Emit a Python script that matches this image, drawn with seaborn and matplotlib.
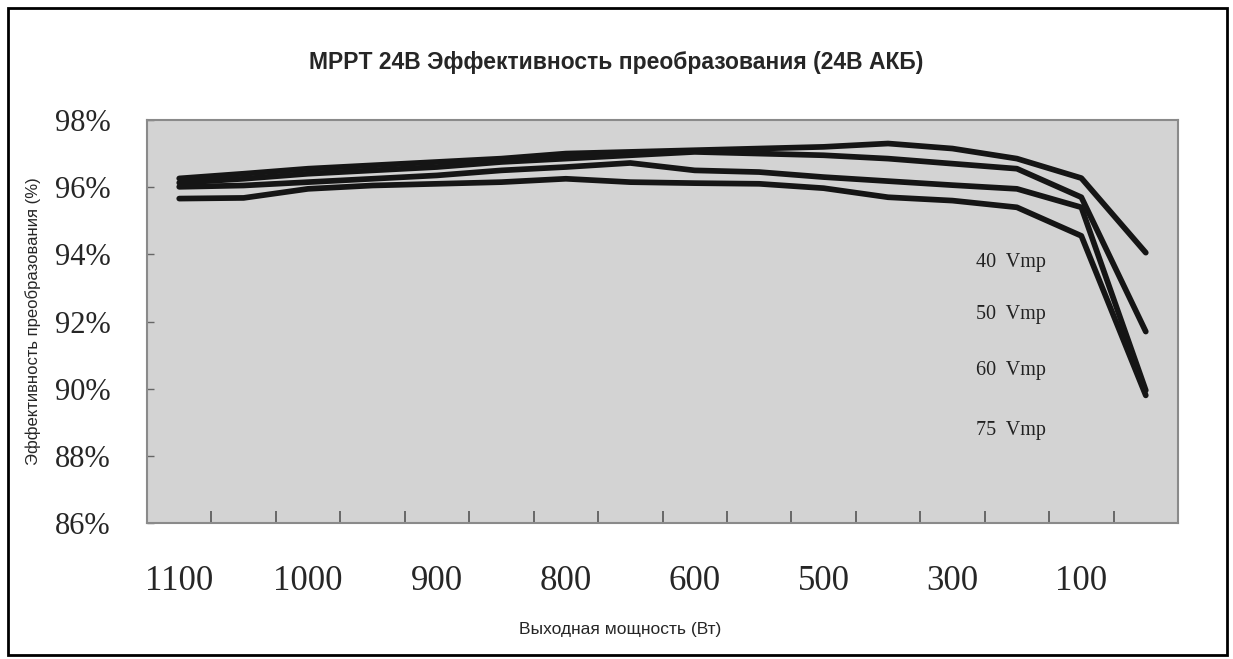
import matplotlib
matplotlib.use("Agg")
import matplotlib.pyplot as plt
import matplotlib.patches as mpatches
import seaborn as sns
import pandas as pd
import numpy as np

# output power categories (16 measuring points, every second one labelled)
power_labels = ["1100", "1000", "900", "800", "600", "500", "300", "100"]
n_points = 16

series_names = ["40 Vmp", "50 Vmp", "60 Vmp", "75 Vmp"]

eff_40 = [96.26, 96.40, 96.55, 96.65, 96.75, 96.85, 97.00, 97.05,
          97.10, 97.15, 97.20, 97.30, 97.15, 96.85, 96.27, 94.05]
eff_50 = [96.13, 96.25, 96.40, 96.50, 96.60, 96.75, 96.85, 96.95,
          97.05, 97.00, 96.95, 96.85, 96.70, 96.55, 95.70, 91.70]
eff_60 = [96.01, 96.05, 96.15, 96.25, 96.35, 96.50, 96.60, 96.72,
          96.50, 96.45, 96.30, 96.18, 96.06, 95.95, 95.40, 89.95]
eff_75 = [95.66, 95.68, 95.95, 96.05, 96.10, 96.15, 96.25, 96.15,
          96.12, 96.10, 95.97, 95.70, 95.60, 95.40, 94.55, 89.80]

y_ticks = [86, 88, 90, 92, 94, 96, 98]


def build_frame():
    records = []
    for name, vals in zip(series_names, [eff_40, eff_50, eff_60, eff_75]):
        for i, v in enumerate(vals):
            records.append({"point": i, "eff": v, "series": name})
    return pd.DataFrame(records)


def main():
    sns.set_style("white")
    plt.rcParams["font.family"] = ["Liberation Sans", "DejaVu Sans"]

    df = build_frame()

    fig = plt.figure(figsize=(12.33, 6.59), dpi=100)
    ax = fig.add_axes([147 / 1233, 136 / 659, 1031 / 1233, 403 / 659])
    ax.set_facecolor("#d3d3d3")

    sns.lineplot(data=df, x="point", y="eff", hue="series",
                 palette=["#151515"] * 4, linewidth=4.1, legend=False,
                 ax=ax, solid_capstyle="round")

    ax.set_xlim(-0.5, n_points - 0.5)
    ax.set_ylim(86, 98)

    ax.set_xticks(np.arange(0, n_points, 2))
    ax.set_xticklabels(power_labels, family="Liberation Serif", fontsize=25)
    ax.set_xticks(np.arange(0.5, n_points - 0.5, 1), minor=True)
    ax.tick_params(axis="x", which="major", length=0, pad=30)
    ax.tick_params(axis="x", which="minor", direction="in", length=9,
                   width=1.2, color="#555555", bottom=True)

    ax.set_yticks(y_ticks)
    ax.set_yticklabels([f"{t}%" for t in y_ticks], family="Liberation Serif",
                       fontsize=22)
    ax.tick_params(axis="y", direction="in", length=5, width=1,
                   color="#666666", pad=26, left=True)

    for s in ax.spines.values():
        s.set_color("#8a8a8a")
        s.set_linewidth(1.5)

    ax.set_xlabel("Выходная мощность (Вт)", fontsize=12.5)
    ax.xaxis.set_label_coords(0.459, -0.245)
    ax.set_ylabel("Эффективность преобразования (%)", fontsize=12)
    ax.yaxis.set_label_coords(-0.103, 0.5)

    fig.text(0.5, 1 - 62 / 659, "MPPT 24В Эффективность преобразования (24В АКБ)",
             ha="center", va="center", fontsize=16.5, fontweight="bold",
             family=["Liberation Sans Narrow", "Liberation Sans", "DejaVu Sans"])

    label_y = [263, 314, 370, 431]
    for name, yy in zip(series_names, label_y):
        fig.text(976 / 1233, 1 - yy / 659, name.replace(" ", "  "),
                 ha="left", va="center", fontsize=14.5,
                 family="Liberation Serif", color="#222222")

    frame = mpatches.Rectangle((8 / 1233, 4 / 659), 1219 / 1233, 647 / 659,
                               transform=fig.transFigure, fill=False,
                               edgecolor="black", linewidth=2)
    fig.patches.append(frame)

    fig.savefig("out.png", dpi=100, facecolor="white")


if __name__ == "__main__":
    main()
